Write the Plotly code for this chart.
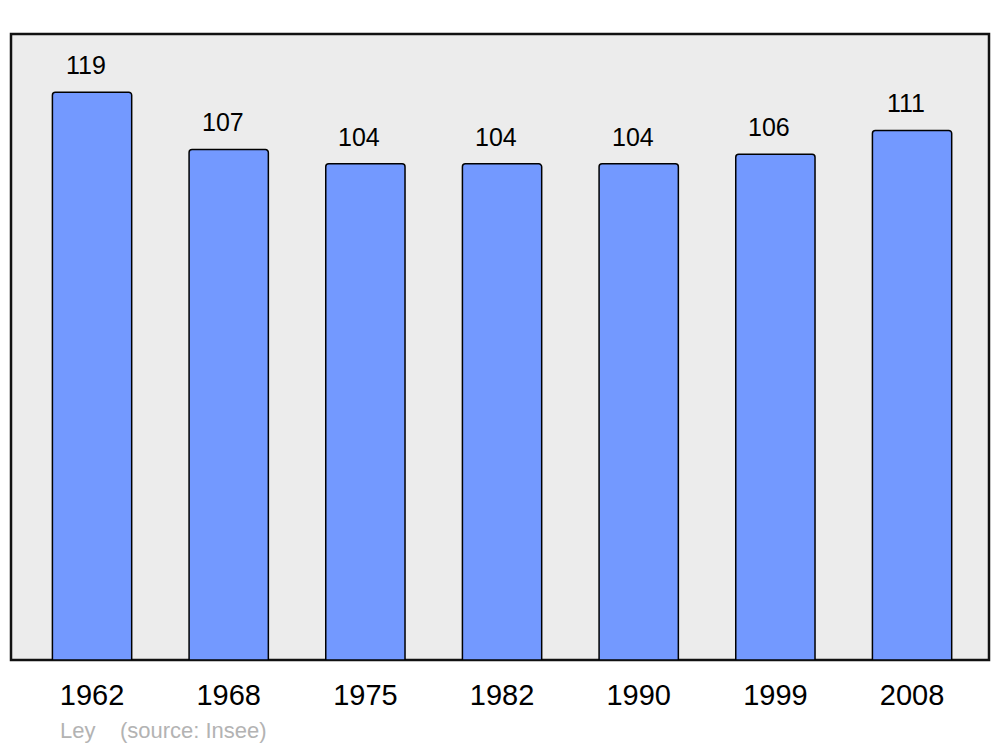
import plotly.graph_objects as go

years = ["1962", "1968", "1975", "1982", "1990", "1999", "2008"]
population = [119, 107, 104, 104, 104, 106, 111]
footer_text = "Ley    (source: Insee)"

FONT = "Liberation Sans, Arial, sans-serif"

fig = go.Figure()
fig.add_trace(go.Bar(
    x=years, y=population, width=0.58,
    marker=dict(color="#7399ff", line=dict(color="#000000", width=1.5), cornerradius=3),
    hoverinfo="x+y",
))

annotations = [
    dict(x=i, y=v, xref="x", yref="y", text=str(v), showarrow=False,
         yanchor="bottom", yshift=11, xshift=-6,
         font=dict(family=FONT, size=25, color="#000000"))
    for i, v in enumerate(population)
]
annotations.append(dict(x=(58 - 11) / 978, y=-0.112, xref="paper", yref="paper",
                        text=footer_text, showarrow=False, xanchor="left", yanchor="middle",
                        font=dict(family=FONT, size=22, color="#b3b3b3")))

fig.update_layout(
    width=984, height=739,
    margin=dict(l=3, r=3, t=26, b=87),
    paper_bgcolor="#ffffff",
    plot_bgcolor="rgba(0,0,0,0)",
    showlegend=False,
    font=dict(family=FONT, color="#000000"),
    annotations=annotations,
    shapes=[dict(type="rect", xref="paper", yref="paper", x0=0, y0=0, x1=1, y1=1,
                 line=dict(color="#111111", width=2.5), fillcolor="#ececec", layer="below")],
    xaxis=dict(type="category", range=[-0.593, 6.563], showgrid=False, zeroline=False,
               showline=False, ticks="outside", ticklen=9, tickcolor="rgba(0,0,0,0)",
               tickfont=dict(family=FONT, size=29, color="#000000")),
    yaxis=dict(range=[0, 131.2], showgrid=False, zeroline=False, showline=False,
               showticklabels=False, ticks=""),
)

fig.write_html("out.html")
